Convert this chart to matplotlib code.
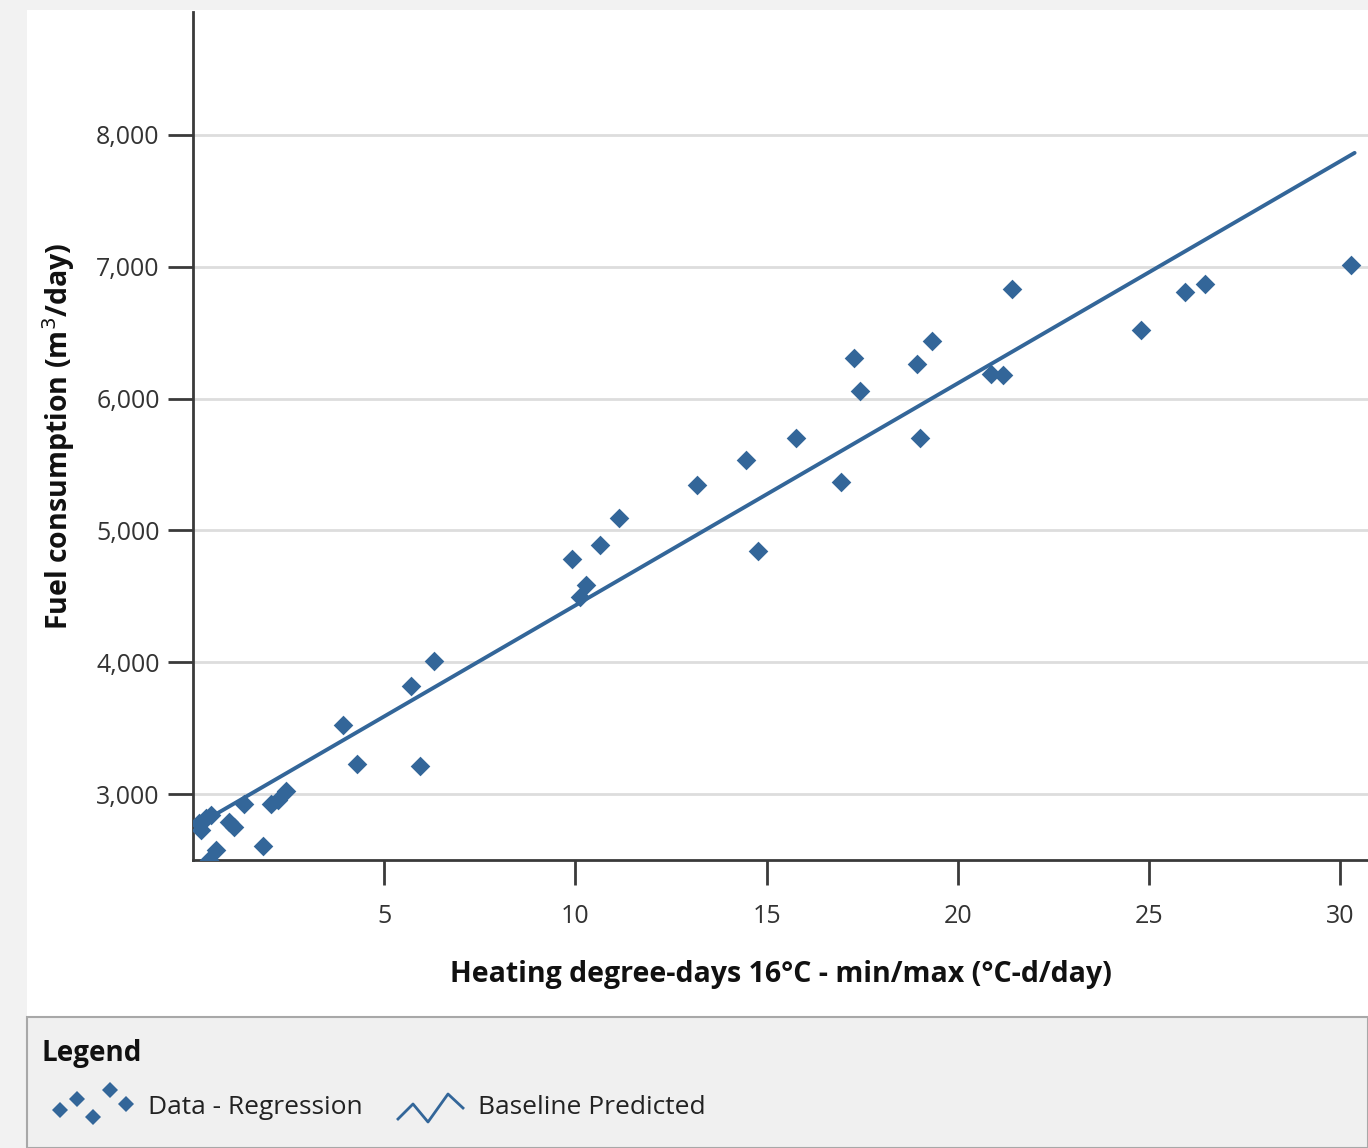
import matplotlib
matplotlib.use("Agg")
import matplotlib.pyplot as plt
from matplotlib.patches import Rectangle
from matplotlib.ticker import FuncFormatter

plt.rcParams['font.family'] = ['Open Sans', 'DejaVu Sans']

# heating degree-days vs fuel consumption
hdd = [30.27, 26.46, 25.94, 24.79, 21.40, 21.19, 20.87, 19.31, 18.92, 19.02,
       17.27, 17.43, 16.93, 15.76, 14.45, 14.76, 13.17, 11.14, 10.64, 9.91,
       10.27, 10.12, 6.31, 5.71, 5.94, 3.93, 4.30, 2.44, 2.23, 2.04,
       1.34, 1.06, 0.95, 1.84, 0.59, 0.43, 0.22, 0.35, 0.48, 0.15]
fuel = [7014, 6870, 6809, 6520, 6831, 6179, 6187, 6437, 6263, 5701,
        6308, 6058, 5367, 5701, 5534, 4844, 5344, 5094, 4889, 4783,
        4586, 4495, 4009, 3819, 3212, 3524, 3228, 3023, 2954, 2924,
        2924, 2750, 2788, 2605, 2575, 2500, 2727, 2818, 2841, 2780]

intercept = 2747
slope = 168.5

yticks = [3000, 4000, 5000, 6000, 7000, 8000]
xticks = [5, 10, 15, 20, 25, 30]

blue = '#336699'
W, H = 1368, 1148

fig = plt.figure(figsize=(W / 100, H / 100), dpi=100, facecolor='#f2f2f2')

# background panels in pixel coordinates
bg = fig.add_axes([0, 0, 1, 1], zorder=-5)
bg.set_xlim(0, W)
bg.set_ylim(H, 0)
bg.axis('off')
bg.add_patch(Rectangle((27, 10), W - 27, 1007, facecolor='white', edgecolor='none'))
bg.add_patch(Rectangle((27, 1017), W - 27, H - 1017, facecolor='#f0f0f0',
                       edgecolor='#a8a8a8', linewidth=1.5))

# legend contents
bg.text(42, 1054, 'Legend', fontsize=20, fontweight='bold', color='#111111', va='center')
bg.plot([60, 77, 93, 110, 126], [1110, 1099, 1117, 1090, 1104], 'D', color=blue,
        markersize=8, markeredgewidth=0, linestyle='none')
bg.text(148, 1107, 'Data - Regression', fontsize=19, color='#222222', va='center')
bg.plot([398, 413, 428, 448, 463], [1119, 1104, 1122, 1094, 1108], color=blue,
        linewidth=2)
bg.text(478, 1107, 'Baseline Predicted', fontsize=19, color='#222222', va='center')

ax = fig.add_axes([193 / W, 1 - 860 / H, (W - 193) / W, (860 - 12) / H])
ax.set_facecolor('none')

ax.scatter(hdd, fuel, marker='D', s=100, color=blue, linewidths=0, zorder=3)
x0, x1 = min(hdd), max(hdd) + 0.1
ax.plot([x0, x1], [intercept + slope * x0, intercept + slope * x1], color=blue,
        linewidth=2.8, zorder=4, solid_capstyle='round')

ax.set_xlim(0, 30.72)
ax.set_ylim(2500, 8933)
ax.set_xticks(xticks)
ax.set_yticks(yticks)
ax.yaxis.set_major_formatter(FuncFormatter(lambda v, p: f'{int(v):,}'))
ax.grid(axis='y', color='#dddddd', linewidth=2)
ax.set_axisbelow(True)

for s in ['top', 'right']:
    ax.spines[s].set_visible(False)
for s in ['left', 'bottom']:
    ax.spines[s].set_color('#3a3a3a')
    ax.spines[s].set_linewidth(2)

ax.tick_params(axis='y', length=18, width=2, color='#3a3a3a', pad=6,
               labelsize=18, labelcolor='#333333')
ax.tick_params(axis='x', length=18, width=2, color='#3a3a3a', pad=14,
               labelsize=18, labelcolor='#333333')

ax.set_xlabel('Heating degree-days 16°C - min/max (°C-d/day)', fontsize=20.5,
              fontweight='bold', color='#111111', labelpad=22)
ax.set_ylabel('Fuel consumption (m$^3$/day)', fontsize=20.5, fontweight='bold',
              color='#111111', labelpad=14)

fig.savefig('out.png', dpi=100, facecolor=fig.get_facecolor())
